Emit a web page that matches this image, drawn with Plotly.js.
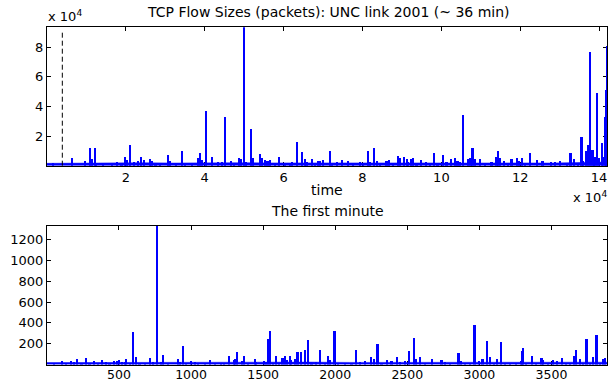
<!DOCTYPE html>
<html>
<head>
<meta charset="utf-8">
<script src="https://cdn.plot.ly/plotly-3.0.1.min.js"></script>
<style>html,body{margin:0;padding:0;background:#fff;}#chart{width:608px;height:382px;}</style>
</head>
<body>
<div id="chart"></div>
<script>
// ---- Top panel: flow sizes over the whole trace (~36 min) ----
const topTime = [1500, 6260, 9630, 10900, 11330, 12170, 12400, 14270, 16400, 17670, 18900, 19770, 20200, 21000, 22130, 23150, 23830, 24500, 26100, 26500, 27500, 28700, 30750, 31100, 32800, 34150, 35000, 36700, 38200, 38800, 39200, 40230, 41750, 43430, 44300, 45150, 46650, 47500, 48750, 49200, 49940, 50500, 51700, 52200, 54000, 54580, 55200, 55900, 56530, 57800, 58820, 60300, 61600, 62200, 63300, 64560, 65400, 65800, 67100, 68000, 68800, 69300, 69880, 71740, 72200, 73500, 74700, 76400, 77600, 79350, 80200, 81300, 82000, 82900, 83600, 84500, 86100, 86700, 87700, 89060, 89500, 90580, 91200, 91600, 92270, 92900, 93700, 94800, 96200, 97100, 98180, 99000, 100470, 101300, 102400, 103400, 104100, 104700, 105400, 106800, 107400, 107900, 108500, 109800, 111000, 112700, 114000, 114450, 114800, 115900, 116800, 117800, 119100, 119700, 120340, 121200, 122440, 124150, 125650, 127700, 128900, 130050, 131800, 132750, 133600, 134700, 135540, 136000, 136640, 137230, 137650, 138330, 138600, 138900, 139500, 140000, 140700, 141000, 141450, 141650, 141880, 141980];
const topSize = [1500, 5000, 3200, 12200, 4400, 12000, 2000, 1500, 1500, 2400, 1500, 5600, 3800, 14000, 2400, 3300, 5800, 3800, 4300, 3000, 2000, 1800, 7000, 3000, 1400, 10100, 1500, 1800, 5000, 8800, 4000, 36960, 6000, 2700, 2400, 32900, 3200, 2000, 5500, 4500, 93500, 2400, 24800, 4900, 7700, 5000, 4000, 3000, 4000, 1300, 6000, 1500, 2000, 2500, 15800, 9000, 4400, 2400, 4400, 2000, 3000, 3400, 4000, 10200, 2000, 2400, 4000, 3200, 1400, 2400, 2000, 9900, 2400, 12000, 3000, 2000, 3000, 4000, 1500, 6500, 5000, 5800, 4500, 2500, 4600, 5500, 2000, 4000, 2400, 2000, 8600, 1500, 7000, 2400, 4400, 5000, 3400, 2400, 34300, 4400, 5000, 12000, 4400, 4400, 1500, 2400, 5800, 10100, 5500, 3200, 2000, 4400, 5000, 3400, 5400, 2000, 8400, 4000, 3200, 2400, 2400, 3200, 2000, 8900, 4800, 1500, 19600, 3000, 9900, 14000, 77000, 10600, 5000, 6200, 48900, 5000, 15100, 6200, 33100, 8000, 51100, 81000];
// dense low-level floor of the top panel
const topFloorTime = [0, 8000, 16000, 24000, 32000, 40000, 48000, 56000, 64000, 72000, 80000, 88000, 96000, 104000, 112000, 120000, 128000, 136000, 142000];
const topFloorSize = [1600, 1800, 1900, 2000, 1800, 2100, 2000, 1900, 2000, 1800, 1900, 2000, 1900, 1800, 2000, 1900, 1800, 2300, 2500];
const topXTickVals = [20000, 40000, 60000, 80000, 100000, 120000, 140000];
const topXTickText = ['2', '4', '6', '8', '10', '12', '14'];
const topYTickVals = [20000, 40000, 60000, 80000];
const topYTickText = ['2', '4', '6', '8'];
const firstMinuteEnd = 3885;

// ---- Bottom panel: the first minute ----
const bottomTime = [49, 107, 130, 169, 190, 211, 240, 273, 296, 326, 352, 384, 412, 435, 463, 488, 500, 520, 540, 551, 574, 600, 620, 643, 678, 713, 736, 766, 789, 808, 840, 909, 921, 946, 967, 1002, 1025, 1048, 1094, 1134, 1164, 1210, 1229, 1263, 1296, 1305, 1321, 1353, 1367, 1395, 1441, 1453, 1504, 1518, 1536, 1548, 1569, 1592, 1610, 1634, 1650, 1666, 1684, 1696, 1720, 1738, 1765, 1793, 1812, 1835, 1865, 1893, 1928, 1950, 1966, 1995, 2020, 2066, 2113, 2142, 2171, 2205, 2246, 2269, 2293, 2321, 2362, 2390, 2427, 2450, 2483, 2510, 2547, 2563, 2587, 2620, 2672, 2737, 2760, 2795, 2855, 2871, 2899, 2934, 2966, 2996, 3022, 3050, 3073, 3101, 3124, 3147, 3177, 3212, 3254, 3286, 3295, 3303, 3326, 3362, 3392, 3431, 3443, 3478, 3508, 3540, 3570, 3600, 3628, 3655, 3669, 3697, 3720, 3743, 3766, 3789, 3812, 3835, 3858, 3872];
const bottomSize = [20, 40, 15, 40, 25, 50, 15, 65, 15, 40, 15, 45, 25, 15, 35, 40, 45, 25, 30, 50, 15, 309, 70, 20, 15, 60, 25, 1330, 25, 90, 15, 50, 30, 181, 20, 35, 25, 15, 15, 45, 15, 15, 20, 85, 45, 50, 120, 35, 85, 20, 50, 30, 35, 30, 245, 325, 15, 80, 20, 60, 80, 45, 80, 45, 50, 120, 125, 145, 235, 15, 30, 140, 15, 85, 45, 325, 20, 20, 15, 140, 25, 35, 70, 50, 200, 15, 45, 35, 70, 30, 35, 130, 255, 50, 70, 15, 50, 45, 30, 15, 110, 35, 15, 15, 379, 40, 50, 223, 75, 15, 55, 215, 15, 15, 15, 40, 135, 160, 15, 85, 15, 60, 45, 15, 45, 40, 60, 20, 20, 85, 140, 50, 20, 248, 20, 70, 280, 15, 50, 65];
const bottomFloorTime = [0, 300, 600, 900, 1200, 1500, 1800, 2100, 2400, 2700, 3000, 3300, 3600, 3885];
const bottomFloorSize = [20, 22, 21, 23, 22, 24, 25, 22, 23, 21, 22, 23, 24, 24];
const bottomXTickVals = [500, 1000, 1500, 2000, 2500, 3000, 3500];
const bottomYTickVals = [200, 400, 600, 800, 1000, 1200];

const BLUE = '#0000ff';
const FONT = 'DejaVu Sans, Liberation Sans, sans-serif';
const W = 608, H = 382;
const px = v => v / W;            // x pixel -> paper
const py = v => (H - v) / H;      // y pixel (from top) -> paper

const traces = [
  {type: 'scatter', mode: 'lines', x: topFloorTime, y: topFloorSize, fill: 'tozeroy',
   fillcolor: BLUE, line: {color: BLUE, width: 0.5}, xaxis: 'x', yaxis: 'y', hoverinfo: 'skip'},
  {type: 'bar', x: topTime, y: topSize, width: 550, marker: {color: BLUE, line: {width: 0}},
   xaxis: 'x', yaxis: 'y'},
  {type: 'scatter', mode: 'lines', x: bottomFloorTime, y: bottomFloorSize, fill: 'tozeroy',
   fillcolor: BLUE, line: {color: BLUE, width: 0.5}, xaxis: 'x2', yaxis: 'y2', hoverinfo: 'skip'},
  {type: 'bar', x: bottomTime, y: bottomSize, width: 15, marker: {color: BLUE, line: {width: 0}},
   xaxis: 'x2', yaxis: 'y2'}
];

const axCommon = {
  ticks: 'inside', ticklen: 4, tickwidth: 1, tickcolor: '#000',
  showline: true, mirror: 'ticks', linecolor: '#000', linewidth: 1,
  showgrid: false, zeroline: false, layer: 'below traces', fixedrange: true,
  tickfont: {family: FONT, size: 13, color: '#000'}
};

const layout = {
  width: W, height: H,
  margin: {l: 0, r: 0, t: 0, b: 0},
  paper_bgcolor: '#fff', plot_bgcolor: '#fff',
  showlegend: false, bargap: 0, barmode: 'overlay',
  font: {family: FONT, size: 13, color: '#000'},
  xaxis: Object.assign({}, axCommon, {domain: [px(47), px(607)], range: [1, 142000], anchor: 'y',
    tickmode: 'array', tickvals: topXTickVals, ticktext: topXTickText}),
  yaxis: Object.assign({}, axCommon, {domain: [py(165.7), py(27.3)], range: [1, 93500], anchor: 'x',
    tickmode: 'array', tickvals: topYTickVals, ticktext: topYTickText}),
  xaxis2: Object.assign({}, axCommon, {domain: [px(47), px(607)], range: [1, firstMinuteEnd], anchor: 'y2',
    tickmode: 'array', tickvals: bottomXTickVals, ticklabelstandoff: -2,
    tickfont: {family: FONT, size: 12.5, color: '#000'}}),
  yaxis2: Object.assign({}, axCommon, {domain: [py(364.6), py(225.7)], range: [1, 1330], anchor: 'x2',
    tickmode: 'array', tickvals: bottomYTickVals}),
  shapes: [{type: 'line', xref: 'x', yref: 'y domain', x0: firstMinuteEnd, x1: firstMinuteEnd, y0: 0, y1: 0.97,
    line: {color: '#000', width: 1, dash: '5px,3px'}}],
  annotations: [
    {text: 'TCP Flow Sizes (packets): UNC link 2001 (~ 36 min)', xref: 'paper', yref: 'paper',
     x: px(329), y: py(12.5), xanchor: 'center', yanchor: 'middle', showarrow: false, font: {family: FONT, size: 14}},
    {text: 'x 10<sup>4</sup>', xref: 'paper', yref: 'paper', x: px(46), y: py(16), xanchor: 'left', yanchor: 'middle',
     showarrow: false, font: {family: FONT, size: 13}},
    {text: 'time', xref: 'paper', yref: 'paper', x: px(327), y: py(190.5), xanchor: 'center', yanchor: 'middle',
     showarrow: false, font: {family: FONT, size: 14}},
    {text: 'x 10<sup>4</sup>', xref: 'paper', yref: 'paper', x: px(609), y: py(197), xanchor: 'right', yanchor: 'middle',
     showarrow: false, font: {family: FONT, size: 13}},
    {text: 'The first minute', xref: 'paper', yref: 'paper', x: px(327.5), y: py(210.5), xanchor: 'center', yanchor: 'middle',
     showarrow: false, font: {family: FONT, size: 14}}
  ]
};

Plotly.newPlot('chart', traces, layout, {staticPlot: true, displayModeBar: false});
</script>
</body>
</html>
